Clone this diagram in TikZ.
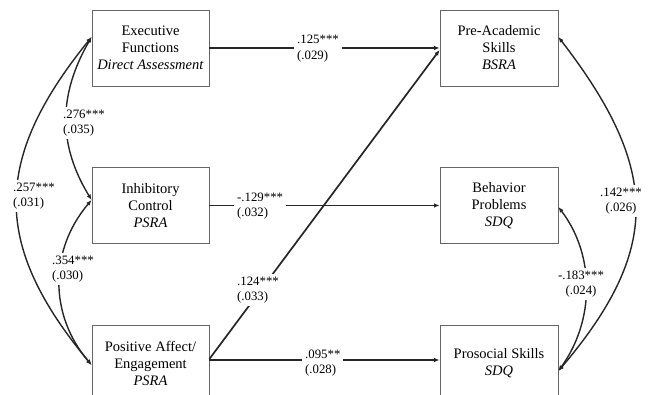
\documentclass[tikz,border=0pt]{standalone}
\usepackage{fontspec}
\setmainfont{Liberation Serif}
\usetikzlibrary{arrows.meta}
\begin{document}
\begin{tikzpicture}[x=1pt,y=-1pt,
  box/.style={draw=black!60, line width=0.8pt, minimum width=117pt, minimum height=76pt,
    align=center, inner sep=0pt, font=\fontsize{14.5}{17}\selectfont},
  path/.style={line width=1.7pt, draw=black!85, -{Latex[length=5.5pt,width=4.5pt]}},
  corr/.style={line width=1.4pt, draw=black!85, {Latex[length=5.5pt,width=4.5pt]}-{Latex[length=5.5pt,width=4.5pt]}},
  lab/.style={fill=white, inner sep=3pt, font=\fontsize{12.8}{15.5}\selectfont},
  labl/.style={lab, align=left, anchor=west},
  labc/.style={lab, align=center}]
\useasboundingbox (0,0) rectangle (651,395);

% boxes
\node[box] (EF) at (150.5,48) {Executive\\Functions\\\textit{Direct Assessment}};
\node[box] (IC) at (150.5,205.5) {Inhibitory\\Control\\\textit{PSRA}};
\node[box] (PA) at (150.5,363) {Positive Affect/\\Engagement\\\textit{PSRA}};
\node[box, minimum width=118pt] (PAS) at (499,48) {Pre-Academic\\Skills\\\textit{BSRA}};
\node[box, minimum width=118pt] (BP) at (499,205.5) {Behavior\\Problems\\\textit{SDQ}};
\node[box, minimum width=118pt] (PS) at (499,363) {Prosocial Skills\\\textit{SDQ}};

% anchor points for correlations
\coordinate (EFl) at ([yshift=11pt]EF.west);
\coordinate (ICl) at ([yshift=5.5pt]IC.west);
\coordinate (PAl) at ([yshift=-2pt]PA.west);
\coordinate (PASr) at ([yshift=11pt]PAS.east);
\coordinate (BPr) at ([yshift=-1.5pt]BP.east);
\coordinate (PSr) at ([yshift=-8pt]PS.east);

% directed paths
\draw[path] (EF) -- (PAS);
\draw[path] (IC) -- (BP);
\draw[path] ([yshift=3pt]PA.east) -- ([yshift=3pt]PS.west);
\draw[path] ([yshift=4pt]PA.east) -- ([yshift=-2pt]PAS.west);

% correlations
\draw[corr] (EFl) .. controls (-8,160) and (-8,245) .. (PAl);
\draw[corr] (EFl) .. controls (58,95) and (58,145) .. (ICl);
\draw[corr] (ICl) .. controls (49,250) and (49,315) .. (PAl);
\draw[corr] (PASr) .. controls (661,170) and (661,250) .. (PSr);
\draw[corr] (BPr) .. controls (595,255) and (595,320) .. (PSr);

% labels
\node[labl] (l1) at (294,48.5) {.125***\\(.029)};
\node[labl] (l2) at (234,206) {-.129***\\(.032)};
\node[labl] (l3) at (234,290) {.124***\\(.033)};
\node[labl] (l4) at (302,363) {.095**\\(.028)};
\node[labl] (l5) at (60,123) {.276***\\(.035)};
\node[labl] (l6) at (49,269) {.354***\\(.030)};
\node[labl] (l7) at (10,196) {.257***\\(.031)};
\node[labc] (l8) at (621,201) {.142***\\(.026)};
\node[labc] (l9) at (581,284) {-.183***\\(.024)};
\end{tikzpicture}
\end{document}
